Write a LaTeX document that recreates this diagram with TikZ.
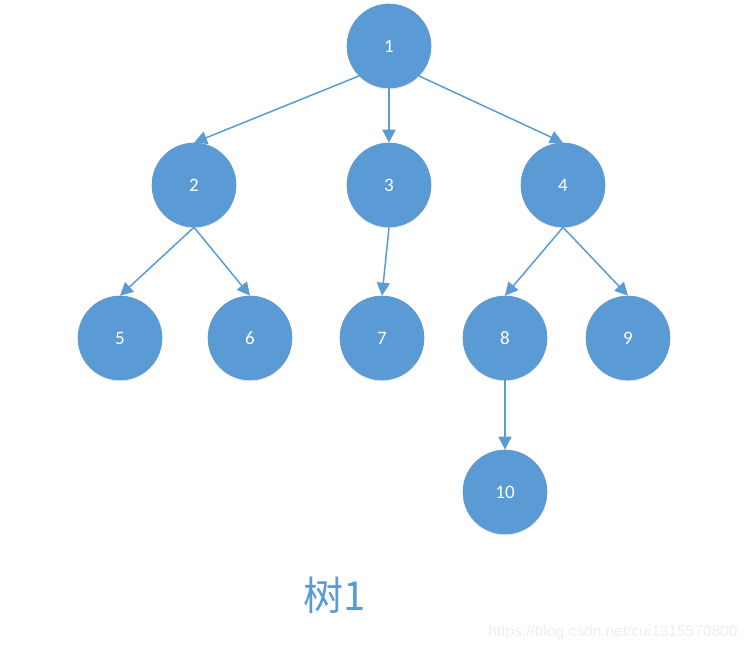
\documentclass[tikz,border=0pt]{standalone}
\usepackage{fontspec}
\setmainfont{Carlito}
\newfontfamily\cjkfont{Noto Sans CJK SC}
\newfontfamily\wmfont{Liberation Sans}
\usetikzlibrary{arrows.meta,shadows}
\definecolor{nodeblue}{HTML}{5B9BD5}
\definecolor{wmgray}{HTML}{EEEEEE}
\tikzset{
  tnode/.style={circle, fill=nodeblue, draw=nodeblue!85!gray, line width=0.6pt,
    minimum size=84pt, inner sep=0pt, text=white,
    font=\fontsize{19}{19}\selectfont,
    drop shadow={shadow xshift=0pt, shadow yshift=-1.5pt, opacity=0.15}},
  edge/.style={draw=nodeblue, line width=1.5pt,
    -{Triangle[length=13pt,width=13pt]}}
}
\begin{document}
\begin{tikzpicture}[x=1pt,y=-1pt]
\useasboundingbox (0,0) rectangle (750,650);
\node[tnode] (n1) at (389,46) {1};
\node[tnode] (n2) at (194,185) {2};
\node[tnode] (n3) at (389,185) {3};
\node[tnode] (n4) at (563,185) {4};
\node[tnode] (n5) at (120,338) {5};
\node[tnode] (n6) at (250,338) {6};
\node[tnode] (n7) at (382,338) {7};
\node[tnode] (n8) at (505,338) {8};
\node[tnode] (n9) at (628,338) {9};
\node[tnode] (n10) at (505,492) {10};
\draw[edge] (n1.south west) -- (n2.north);
\draw[edge] (n1.south) -- (n3.north);
\draw[edge] (n1.south east) -- (n4.north);
\draw[edge] (n2.south) -- (n5.north);
\draw[edge] (n2.south) -- (n6.north);
\draw[edge] (n3.south) -- (n7.north);
\draw[edge] (n4.south) -- (n8.north);
\draw[edge] (n4.south) -- (n9.north);
\draw[edge] (n8.south) -- (n10.north);
\node[text=nodeblue, font=\cjkfont\fontsize{40}{40}\selectfont] (title) at (335,595) {树1};
\node[text=wmgray, font=\wmfont\fontsize{15.5}{15.5}\selectfont, anchor=east] (wm) at (741,632) {https://blog.csdn.net/cui1315570800};
\end{tikzpicture}
\end{document}
